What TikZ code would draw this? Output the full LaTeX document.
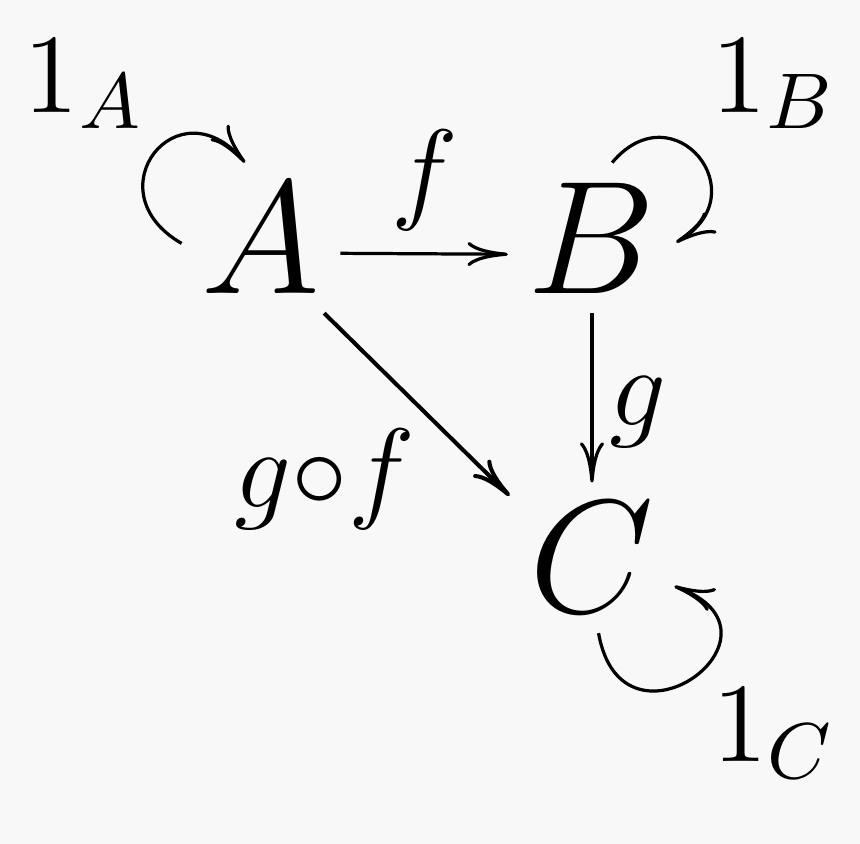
\RequirePackage{fix-cm}
\documentclass[tikz,border=0pt]{standalone}
\usepackage{tikz}
\usetikzlibrary{arrows.meta,arrows}
\usetikzlibrary{positioning}
\definecolor{bgcol}{RGB}{248,248,248}

\begin{document}
\begin{tikzpicture}[x=0.124pt,y=0.124pt,yscale=-1,
  obj/.style={font=\fontsize{20}{24}\selectfont, inner sep=2.3pt, anchor=base},
  lbl/.style={font=\fontsize{14}{17}\selectfont, inner sep=0pt, anchor=base},
  mor/.style={-{To[length=5pt,width=3pt]}, line width=0.4pt}]
%set diagram left start at 0, 860 wide and 844 high
\path [use as bounding box, fill=bgcol] (0,0) rectangle (860,844);

\node [obj] (A) at (261,293) {$A$};
\node [obj] (B) at (592,293) {$B$};
\node [obj] (C) at (592,613) {$C$};

%arrows leave at the math axis, below the box centres
\draw [mor] (A.-11) -- (B.191);
\draw [mor] (B) -- (C);
\draw [mor, line width=0.5pt] (A.-50) -- (C.143);

%y axis points down, so loop angles are mirrored
\draw [mor] (A.184) to [out=-150, in=-130, looseness=2.6] (A.102);
\draw [mor] (B.75) to [out=-50, in=-30, looseness=2.4] (B.-3);
\draw [mor] (C.-85) to [out=80, in=20, looseness=3.9] (C.-19);

\node [lbl] (f) at (425,208) {$f$};
\node [lbl] (g) at (638,426) {$g$};
\node [lbl] (gf) at (325,508) {$g{\circ}f$};
\node [lbl] (idA) at (84,112) {$1_A$};
\node [lbl] (idB) at (774,112) {$1_B$};
\node [lbl] (idC) at (774,762) {$1_C$};

\end{tikzpicture}
\end{document}
